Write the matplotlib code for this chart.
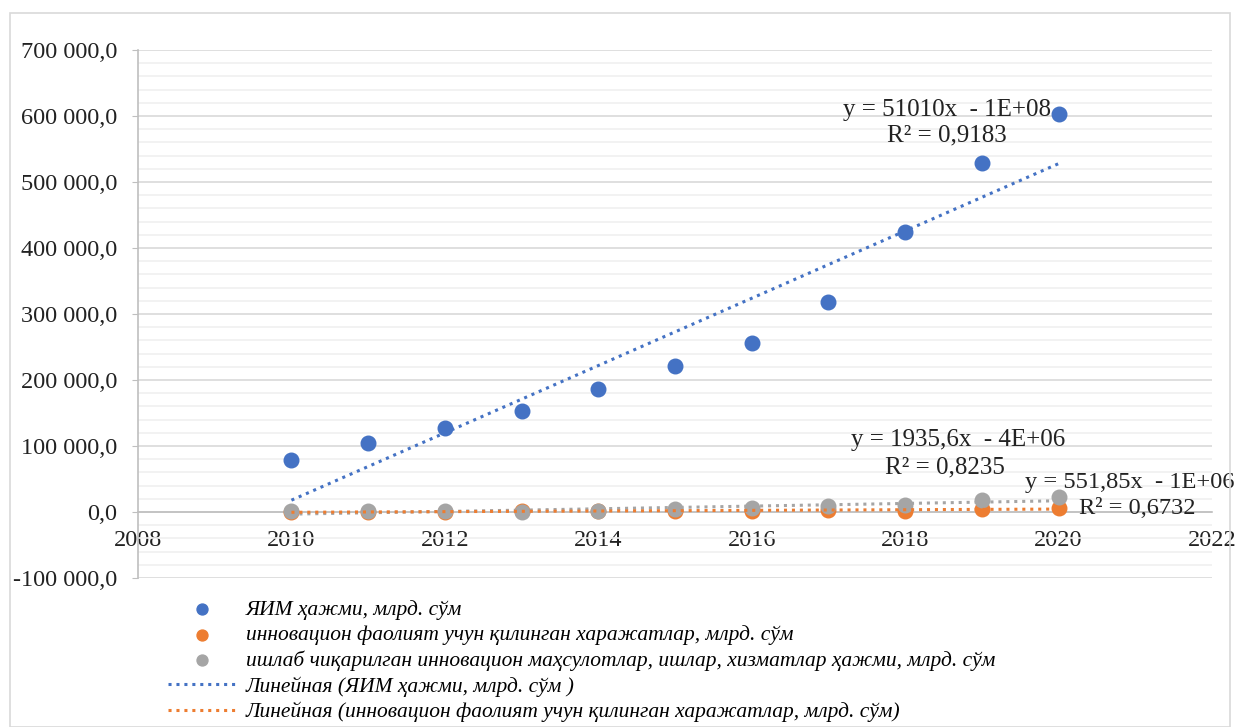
import numpy as np
import matplotlib
matplotlib.use('Agg')
import matplotlib.pyplot as plt
from matplotlib.ticker import FuncFormatter, MultipleLocator
from matplotlib.patches import Rectangle

plt.rcParams['font.family'] = ['Liberation Serif', 'DejaVu Serif']

years = [2010, 2011, 2012, 2013, 2014, 2015, 2016, 2017, 2018, 2019, 2020]
gdp = [78800, 104000, 127600, 153300, 186800, 221400, 255400, 317500, 424700, 529400, 602600]
innov_cost = [200, 400, 600, 800, 1100, 1600, 2200, 3200, 1500, 5000, 5500]
innov_prod = [1000, 800, 1500, 600, 2000, 4500, 5500, 9000, 11000, 18000, 22000]

lbl_gdp = 'ЯИМ ҳажми, млрд. сўм'
lbl_cost = 'инновацион фаолият учун қилинган харажатлар, млрд. сўм'
lbl_prod = 'ишлаб чиқарилган инновацион маҳсулотлар, ишлар, хизматлар ҳажми, млрд. сўм'
lbl_tr_gdp = 'Линейная (ЯИМ ҳажми, млрд. сўм )'
lbl_tr_cost = 'Линейная (инновацион фаолият учун қилинган харажатлар, млрд. сўм)'

c_blue = '#4472C4'
c_orange = '#ED7D31'
c_gray = '#A5A5A5'
txt = '#222222'

fig = plt.figure(figsize=(12.39, 7.27), dpi=100)
fig.patches.append(Rectangle((10/1239, 0.0), 1220/1239, 1 - 13/727, transform=fig.transFigure,
                             fill=False, edgecolor='#d9d9d9', linewidth=1.2))
ax = fig.add_axes([138/1239, 1 - 578/727, 1074/1239, 528/727])

x = np.array(years)
s_gdp = ax.scatter(years, gdp, s=110, color=c_blue, zorder=4, label=lbl_gdp)
s_cost = ax.scatter(years, innov_cost, s=110, color=c_orange, zorder=3, label=lbl_cost)
s_prod = ax.scatter(years, innov_prod, s=110, color=c_gray, zorder=4, label=lbl_prod)

dots = (0, (1, 1.6))
p = np.polyfit(x, gdp, 1)
l_gdp, = ax.plot(x, np.polyval(p, x), color=c_blue, lw=2.2, ls=dots, zorder=5, label=lbl_tr_gdp)
p = np.polyfit(x, innov_cost, 1)
l_cost, = ax.plot(x, np.polyval(p, x), color=c_orange, lw=2.2, ls=dots, zorder=5, label=lbl_tr_cost)
p = np.polyfit(x, innov_prod, 1)
ax.plot(x, np.polyval(p, x), color=c_gray, lw=2.2, ls=dots, zorder=3)

ax.set_xlim(2008, 2022)
ax.set_ylim(-100000, 700000)
ax.xaxis.set_major_locator(MultipleLocator(2))
ax.yaxis.set_major_locator(MultipleLocator(100000))
ax.yaxis.set_minor_locator(MultipleLocator(20000))


def fmt(v, pos):
    s = '{:,.1f}'.format(v).replace(',', ' ').replace('.', ',')
    return s


ax.yaxis.set_major_formatter(FuncFormatter(fmt))
ax.grid(axis='y', which='major', color='#d9d9d9', lw=1.2, zorder=0)
ax.grid(axis='y', which='minor', color='#f0f0f0', lw=1.2, zorder=0)
ax.set_axisbelow(True)

for sp in ['top', 'right']:
    ax.spines[sp].set_visible(False)
ax.spines['left'].set_color('#bfbfbf')
ax.spines['left'].set_linewidth(1.2)
ax.spines['bottom'].set_position(('data', 0))
ax.spines['bottom'].set_color('#bfbfbf')
ax.spines['bottom'].set_linewidth(1.2)

ax.tick_params(axis='y', which='major', length=4, color='#bfbfbf', pad=11, labelsize=17.5, labelcolor=txt)
ax.tick_params(axis='y', which='minor', length=0)
ax.tick_params(axis='x', length=0, pad=13, labelsize=17.5, labelcolor=txt)

fs = 18
ax.text(2018.55, 609000, 'y = 51010x  - 1E+08', ha='center', va='center', fontsize=fs, color=txt)
ax.text(2018.55, 571000, 'R² = 0,9183', ha='center', va='center', fontsize=fs, color=txt)
ax.text(2018.69, 109000, 'y = 1935,6x  - 4E+06', ha='center', va='center', fontsize=fs, color=txt)
ax.text(2018.52, 68000, 'R² = 0,8235', ha='center', va='center', fontsize=fs, color=txt)
ax.text(2020.93, 44000, 'y = 551,85x  - 1E+06', ha='center', va='center', fontsize=17.6, color=txt)
ax.text(2021.03, 6000, 'R² = 0,6732', ha='center', va='center', fontsize=17.6, color=txt)

fig.legend(handles=[s_gdp, s_cost, s_prod, l_gdp, l_cost],
           loc='upper left', bbox_to_anchor=(168/1239, 1 - 600/727), frameon=False,
           prop={'family': 'Liberation Serif', 'style': 'italic', 'size': 15.5},
           handlelength=3.2, handletextpad=0.4, labelspacing=0.24, borderpad=0, borderaxespad=0,
           markerscale=0.75)

fig.savefig('out.png', dpi=100)
